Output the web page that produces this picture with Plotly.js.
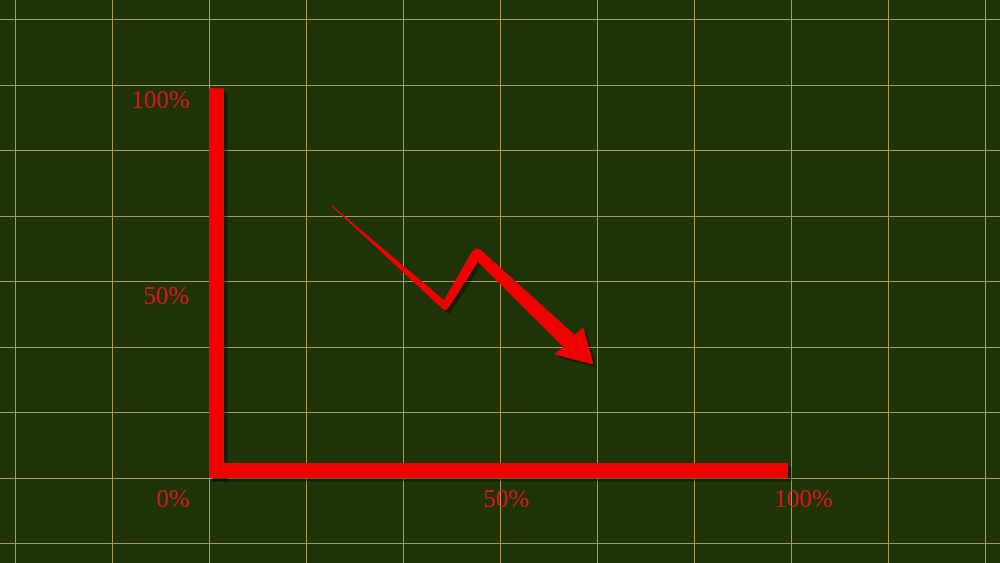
<!DOCTYPE html>
<html>
<head>
<meta charset="utf-8">
<script src="https://cdn.plot.ly/plotly-3.0.1.min.js"></script>
<style>html,body{margin:0;padding:0;background:#1f3409;}#chart{width:1000px;height:563px;}</style>
</head>
<body>
<div id="chart"></div>
<script>
// ---- data (percent units) ----
var tickValues = [0, 50, 100];
var xTickLabels = ['0%', '50%', '100%'];
var yTickLabels = ['0%', '50%', '100%'];

// red axis bars (L shape)
var yAxisBarX = [1.29, 1.29];
var yAxisBarY = [0, 99.2];
var xAxisBarX = [0, 99.5];
var xAxisBarY = [1.9, 1.9];

// falling arrow outline (tapered shaft + head)
var arrowX = [21.13, 40.41, 45.30, 45.95, 46.68, 62.80, 64.26, 65.98, 59.45, 60.91, 46.20, 41.07, 40.64, 40.15, 21.13];
var arrowY = [69.21, 45.14, 57.71, 58.34, 57.94, 36.34, 38.17, 29.01, 31.55, 33.38, 55.09, 43.31, 42.78, 43.10, 69.21];

var RED = '#f00000';
var LABEL_RED = '#d01616';
var SHADOW = 'rgba(0,0,0,0.35)';
var sx = 0.6, sy = -0.9; // shadow offset in data units

function shift(arr, d) { return arr.map(function (v) { return v + d; }); }

var traces = [
  // shadows
  {x: shift(yAxisBarX, sx), y: shift(yAxisBarY, sy), mode: 'lines', line: {color: SHADOW, width: 15}, hoverinfo: 'skip'},
  {x: shift(xAxisBarX, sx), y: shift(xAxisBarY, sy), mode: 'lines', line: {color: SHADOW, width: 15}, hoverinfo: 'skip'},
  {x: shift(arrowX, sx), y: shift(arrowY, sy), mode: 'lines', fill: 'toself', fillcolor: SHADOW, line: {width: 0, color: SHADOW}, hoverinfo: 'skip'},
  // bars
  {x: yAxisBarX, y: yAxisBarY, mode: 'lines', line: {color: RED, width: 15}, hoverinfo: 'skip'},
  {x: xAxisBarX, y: xAxisBarY, mode: 'lines', line: {color: RED, width: 15}, hoverinfo: 'skip'},
  // arrow
  {x: arrowX, y: arrowY, mode: 'lines', fill: 'toself', fillcolor: RED, line: {width: 1, color: RED}, hoverinfo: 'skip'}
];

var labelFont = {family: 'Liberation Serif, serif', size: 25, color: LABEL_RED};
var annotations = [];
tickValues.forEach(function (v, i) {
  if (v === 0) {
    annotations.push({x: -3.1, y: -5.3, xref: 'x', yref: 'y', text: xTickLabels[i], showarrow: false, xanchor: 'right', yanchor: 'middle', font: labelFont});
  } else {
    annotations.push({x: v - 3.2, y: -5.3, xref: 'x', yref: 'y', text: xTickLabels[i], showarrow: false, xanchor: 'left', yanchor: 'middle', font: labelFont});
    annotations.push({x: -3.1, y: v - 3.6, xref: 'x', yref: 'y', text: yTickLabels[i], showarrow: false, xanchor: 'right', yanchor: 'middle', font: labelFont});
  }
});

var gridStyle = {
  tick0: 0, dtick: 100 / 6, showgrid: true, gridcolor: '#a8985c', gridwidth: 1,
  zeroline: false, showticklabels: false, ticks: '', showline: false, fixedrange: true
};

var layout = {
  width: 1000, height: 563,
  margin: {l: 0, r: 0, t: 0, b: 0, pad: 0},
  paper_bgcolor: '#1f3409', plot_bgcolor: '#1f3409',
  showlegend: false,
  xaxis: Object.assign({range: [-35.91, 135.91]}, gridStyle),
  yaxis: Object.assign({range: [-21.63, 121.63]}, gridStyle),
  annotations: annotations
};

Plotly.newPlot('chart', traces, layout, {staticPlot: true, displayModeBar: false});
</script>
</body>
</html>
